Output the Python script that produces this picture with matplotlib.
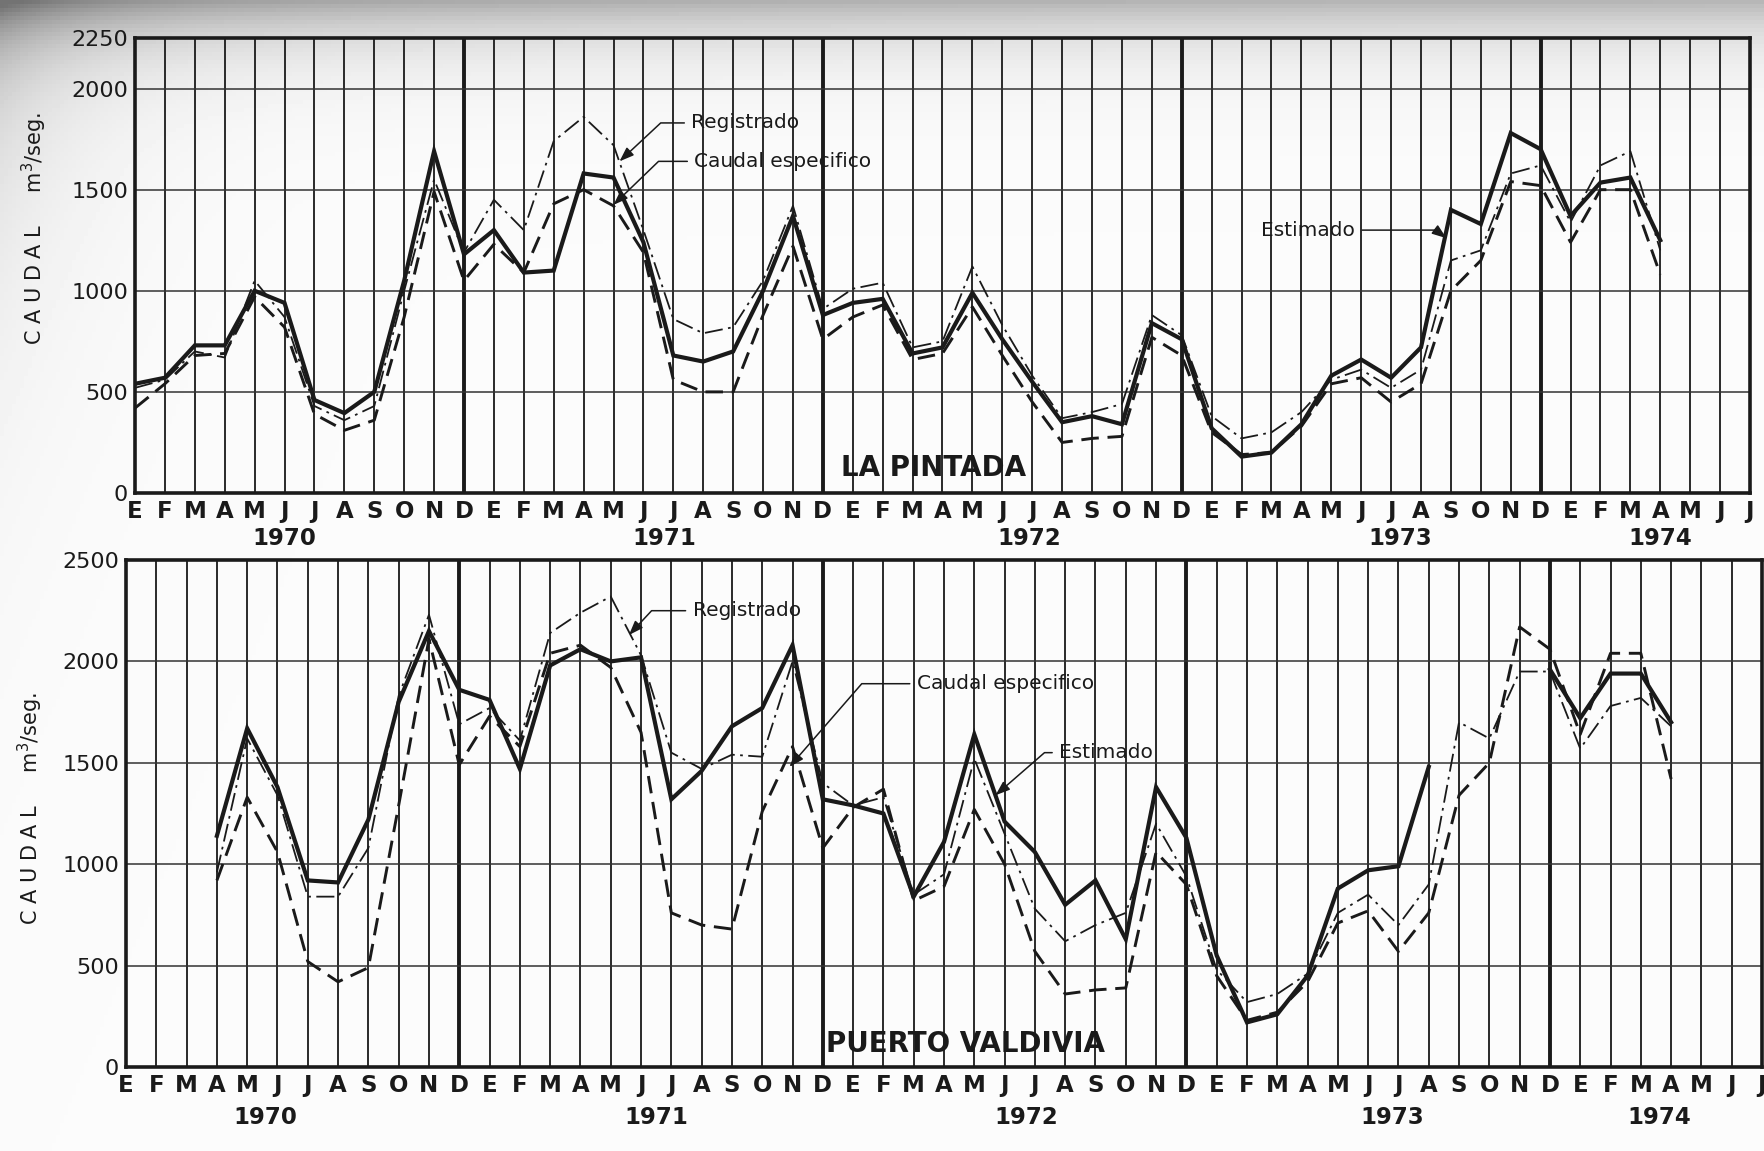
import numpy as np
import matplotlib
matplotlib.use("Agg")
import matplotlib.pyplot as plt
from matplotlib.transforms import blended_transform_factory

nan = np.nan
months = list("EFMAMJJASOND") * 4 + list("EFMAMJJ")
years = ["1970", "1971", "1972", "1973", "1974"]
year_pos_top = [5.0, 17.7, 29.9, 42.3, 51.0]
year_pos_bot = [4.6, 17.5, 29.7, 41.8, 50.6]

# ---------------- LA PINTADA (index 0 = Enero 1970) ----------------
lp_registrado = [520, 560, 700, 670, 1050, 870, 430, 360, 430, 1000, 1550, 1190,
                 1450, 1300, 1740, 1860, 1720, 1300, 860, 790, 820, 1050, 1420, 910,
                 1010, 1040, 720, 750, 1120, 830, 580, 370, 400, 440, 880, 780,
                 380, 270, 300, 400, 560, 610, 520, 610, 1150, 1200, 1580, 1620,
                 1340, 1620, 1690, 1200]
lp_especifico = [420, 540, 680, 690, 970, 820, 390, 310, 360, 870, 1490, 1050,
                 1230, 1090, 1430, 1500, 1420, 1190, 560, 500, 500, 880, 1220, 760,
                 870, 930, 660, 690, 920, 680, 450, 250, 270, 280, 770, 680,
                 300, 190, 200, 330, 540, 570, 450, 540, 1000, 1150, 1540, 1520,
                 1240, 1500, 1500, 1080]
lp_estimado = [540, 570, 730, 730, 1000, 940, 460, 395, 500, 1050, 1690, 1180,
               1300, 1090, 1100, 1580, 1560, 1240, 680, 650, 700, 1000, 1370, 880,
               940, 960, 690, 720, 990, 760, 550, 350, 380, 340, 840, 760,
               320, 180, 200, 340, 580, 660, 570, 720, 1400, 1330, 1780, 1700,
               1370, 1535, 1560, 1250]

# ---------------- PUERTO VALDIVIA ----------------
pv_registrado = [nan, nan, nan, 960, 1620, 1340, 840, 840, 1080, 1830, 2230, 1690,
                 1770, 1610, 2140, 2240, 2320, 2030, 1550, 1470, 1540, 1530, 2000, 1400,
                 1290, 1330, 850, 950, 1520, 1150, 780, 620, 700, 760, 1200, 940,
                 480, 320, 360, 460, 760, 850, 700, 900, 1700, 1620, 1950, 1950,
                 1570, 1780, 1820, 1680]
pv_especifico = [nan, nan, nan, 920, 1330, 1060, 520, 420, 490, 1290, 2110, 1490,
                 1730, 1580, 2040, 2080, 1970, 1650, 760, 700, 680, 1260, 1580, 1080,
                 1280, 1370, 820, 890, 1270, 1000, 570, 360, 380, 390, 1060, 900,
                 450, 230, 270, 420, 710, 770, 570, 760, 1340, 1500, 2170, 2060,
                 1640, 2040, 2040, 1420]
pv_estimado = [nan, nan, nan, 1140, 1670, 1380, 920, 910, 1220, 1800, 2150, 1860,
               1810, 1470, 1980, 2060, 2000, 2020, 1320, 1460, 1680, 1770, 2080, 1320,
               1290, 1250, 840, 1110, 1640, 1210, 1060, 800, 920, 630, 1380, 1130,
               550, 220, 260, 450, 880, 970, 990, 1480, nan, nan, nan, 1960,
               1720, 1940, 1940, 1700]

W, H = 1765, 1151
fig = plt.figure(figsize=(W / 100, H / 100), dpi=100)

# scanned-page shading (top band and top-left corner)
bg = fig.add_axes([0, 0, 1, 1], zorder=-10)
yy, xx = np.mgrid[0:H:4, 0:W:4]
shade = 0.38 * np.exp(-yy / 38.0) * (0.7 + 0.3 * np.exp(-xx / 500.0)) \
        + 0.20 * np.exp(-xx / 90.0) * np.exp(-yy / 220.0)
img = np.clip(0.985 - shade, 0.45, 1.0)
bg.imshow(img, cmap="gray", vmin=0, vmax=1, aspect="auto", extent=[0, 1, 0, 1])
bg.axis("off")

ink = "#1a1a1a"
styles = {
    "reg": dict(color=ink, lw=1.3, linestyle=(0, (10, 3, 1.5, 3))),
    "esp": dict(color=ink, lw=2.1, linestyle=(0, (6, 3))),
    "est": dict(color=ink, lw=3.0, linestyle="-", solid_joinstyle="miter"),
}


def make_axes(rect, ymax, yticks):
    ax = fig.add_axes(rect)
    ax.set_facecolor("none")
    ax.set_xlim(0, 54)
    ax.set_ylim(0, ymax)
    for i in range(55):
        lw = 2.8 if months[i] == "D" else 1.3
        ax.axvline(i, color=ink, lw=lw, zorder=1)
    for v in range(500, int(ymax) + 1, 500):
        ax.axhline(v, color="#333333", lw=1.1, zorder=1)
    for s in ax.spines.values():
        s.set_linewidth(2.6)
        s.set_color(ink)
    ax.set_xticks(np.arange(55))
    ax.set_xticklabels(months, fontsize=16.5, fontweight="bold", color=ink)
    ax.set_yticks(yticks)
    ax.set_yticklabels([str(t) for t in yticks], fontsize=16, color=ink)
    ax.tick_params(length=0, pad=5)
    return ax


ax1 = make_axes([135 / W, 1 - 493 / H, 1615 / W, 455 / H], 2250, [0, 500, 1000, 1500, 2000, 2250])
ax2 = make_axes([126 / W, 1 - 1067 / H, 1636 / W, 507 / H], 2500, [0, 500, 1000, 1500, 2000, 2500])

x = np.arange(len(lp_estimado))
ax1.plot(x, lp_registrado, zorder=3, **styles["reg"])
ax1.plot(x, lp_especifico, zorder=3, **styles["esp"])
ax1.plot(x, lp_estimado, zorder=4, **styles["est"])
ax2.plot(x, pv_registrado, zorder=3, **styles["reg"])
ax2.plot(x, pv_especifico, zorder=3, **styles["esp"])
ax2.plot(x, pv_estimado, zorder=4, **styles["est"])

for ax, ypos in ((ax1, year_pos_top), (ax2, year_pos_bot)):
    tr = blended_transform_factory(ax.transData, ax.transAxes)
    for xp, yr in zip(ypos, years):
        ax.text(xp, -0.1, yr, transform=tr, ha="center", va="center",
                fontsize=16.5, fontweight="bold", color=ink)

ax1.text(26.7, 125, "LA PINTADA", ha="center", va="center", fontsize=20,
         fontweight="bold", color=ink, zorder=5)
ax2.text(27.7, 115, "PUERTO VALDIVIA", ha="center", va="center", fontsize=20,
         fontweight="bold", color=ink, zorder=5)


def label(ax, txt, xy, xytext, ang, ha="left"):
    ax.annotate(txt, xy=xy, xytext=xytext, ha=ha, va="center", fontsize=14.5,
                color=ink, zorder=6,
                arrowprops=dict(arrowstyle="-|>,head_length=0.6,head_width=0.22",
                                color=ink, lw=1.1, shrinkA=3, shrinkB=0,
                                connectionstyle=f"angle,angleA=0,angleB={ang},rad=0"))


label(ax1, "Registrado", (16.2, 1640), (18.6, 1830), 43)
label(ax1, "Caudal especifico", (16.0, 1425), (18.7, 1640), 44)
label(ax1, "Estimado", (43.85, 1260), (40.8, 1300), 143, ha="right")
label(ax2, "Registrado", (16.6, 2130), (18.7, 2250), 47)
label(ax2, "Caudal especifico", (21.9, 1480), (26.1, 1890), 49)
label(ax2, "Estimado", (28.7, 1340), (30.8, 1550), 41)

fig.text(34 / W, 1 - 228 / H, "C A U D A L     m$^3$/seg.", rotation=90,
         ha="center", va="center", fontsize=15, color=ink)
fig.text(30 / W, 1 - 808 / H, "C A U D A L     m$^3$/seg.", rotation=90,
         ha="center", va="center", fontsize=15, color=ink)

fig.savefig("out.png", dpi=100)
